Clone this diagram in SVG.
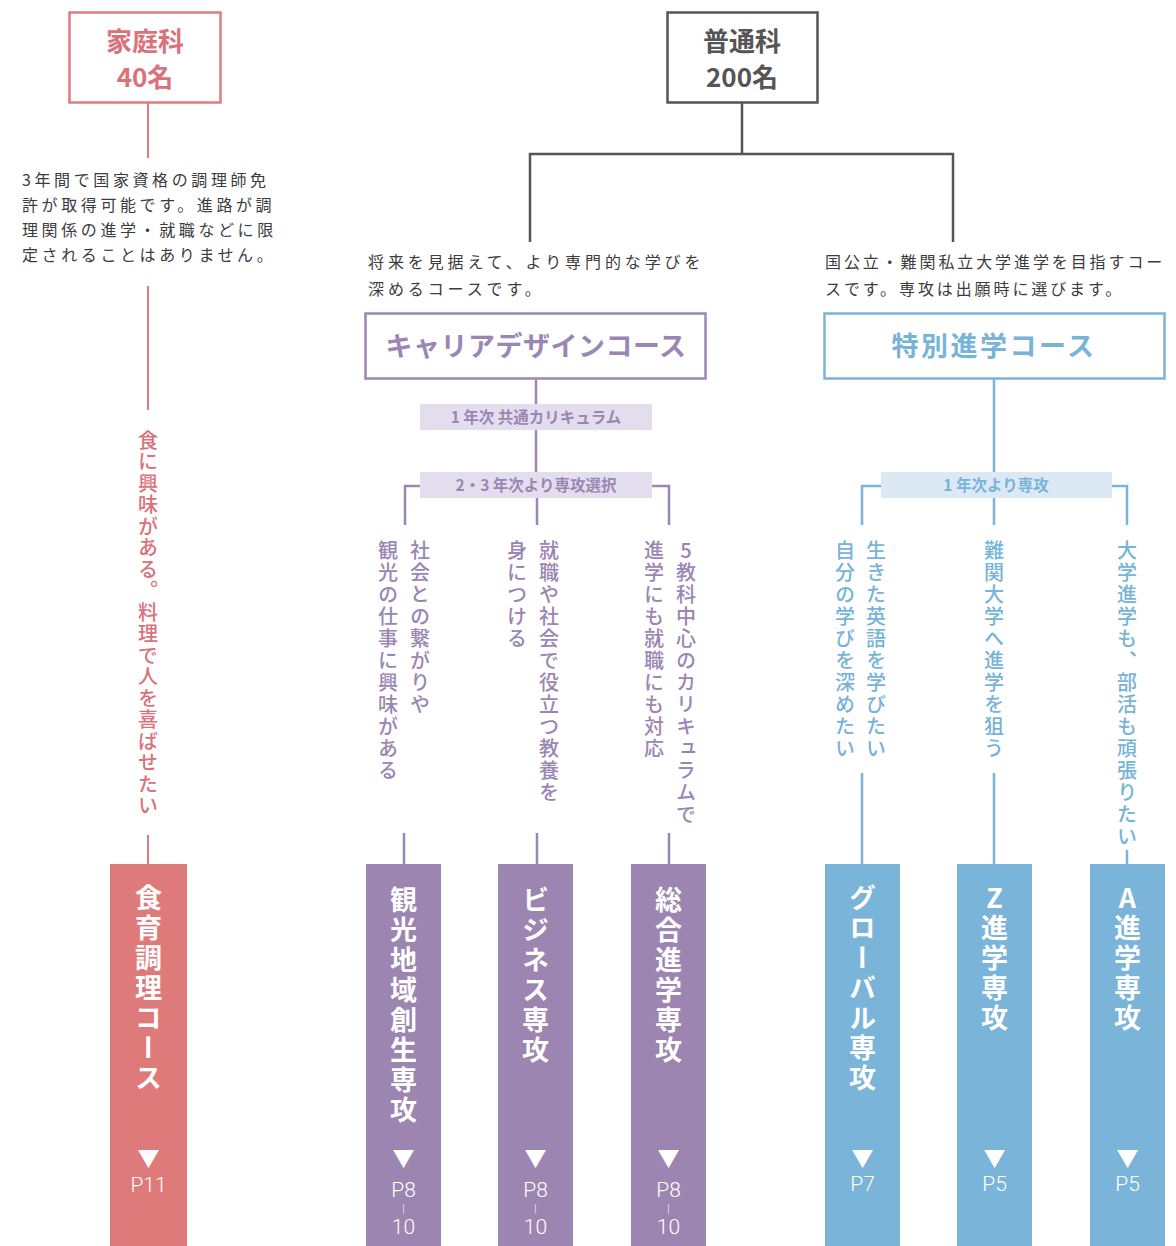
<svg xmlns="http://www.w3.org/2000/svg" width="1176" height="1246" viewBox="0 0 1176 1246">
<style>
text{font-family:"Noto Sans CJK JP","Noto Sans",sans-serif}
.para{font-size:16px;fill:#3c3c3c;letter-spacing:3.6px}
.vt{writing-mode:vertical-rl;text-orientation:upright;font-size:20px;letter-spacing:2px;font-weight:500}
.pk{fill:#d9727a}.pu{fill:#9a86b4}.bl{fill:#78b3d8}
.ln-pk{stroke:#df7b80;stroke-width:2;fill:none}
.ln-pu{stroke:#9b87b2;stroke-width:2.5;fill:none}
.ln-bl{stroke:#7ab4d8;stroke-width:2.5;fill:none}
.ln-gy{stroke:#555;stroke-width:2.5;fill:none}
.bar-t{writing-mode:vertical-rl;text-orientation:upright;font-size:27px;font-weight:700;fill:#fff;letter-spacing:3px}
.tri{font-size:22px;fill:#fff;text-anchor:middle}
.pg{font-family:Roboto,"Liberation Sans",sans-serif;font-weight:300;font-size:21px;fill:#fff;text-anchor:middle}
.band{font-size:15.5px;font-weight:700;text-anchor:middle}
.ttl{font-size:26px;font-weight:600;text-anchor:middle}
</style>

<g id="connectors">
  <line class="ln-pk" x1="148" y1="103" x2="148" y2="158"/>
  <line class="ln-pk" x1="148" y1="286" x2="148" y2="410"/>
  <line class="ln-pk" x1="148" y1="835" x2="148" y2="864"/>
  <polyline class="ln-gy" points="742,103 742,154"/>
  <polyline class="ln-gy" points="530,242 530,154 953,154 953,242"/>
  <line class="ln-pu" x1="536" y1="379" x2="536" y2="472"/>
  <polyline class="ln-pu" points="420,486 405,486 405,525"/>
  <polyline class="ln-pu" points="652,486 669,486 669,525"/>
  <line class="ln-pu" x1="537" y1="498" x2="537" y2="525"/>
  <line class="ln-pu" x1="404" y1="833" x2="404" y2="864"/>
  <line class="ln-pu" x1="537" y1="833" x2="537" y2="864"/>
  <line class="ln-pu" x1="669" y1="833" x2="669" y2="864"/>
  <line class="ln-bl" x1="994" y1="379" x2="994" y2="472"/>
  <polyline class="ln-bl" points="881,486 862,486 862,525"/>
  <polyline class="ln-bl" points="1112,486 1127,486 1127,525"/>
  <line class="ln-bl" x1="994" y1="498" x2="994" y2="525"/>
  <line class="ln-bl" x1="862" y1="773" x2="862" y2="864"/>
  <line class="ln-bl" x1="994" y1="773" x2="994" y2="864"/>
  <line class="ln-bl" x1="1127" y1="850" x2="1127" y2="864"/>
</g>

<g id="kateika">
  <rect x="69.5" y="12.5" width="151" height="90" fill="#fff" stroke="#df7b80" stroke-width="2.5"/>
  <text x="145" y="51" class="ttl pk">家庭科</text>
  <text x="145" y="87" class="ttl pk">40名</text>
</g>
<g id="kateika-desc">
  <text class="para" x="22" y="186">3年間で国家資格の調理師免</text>
  <text class="para" x="22" y="211">許が取得可能です。進路が調</text>
  <text class="para" x="22" y="236">理関係の進学・就職などに限</text>
  <text class="para" x="22" y="261">定されることはありません。</text>
</g>
<g id="kateika-wish">
  <text class="vt pk" x="148" y="430" style="letter-spacing:1.5px">食に興味がある。料理で人を喜ばせたい</text>
</g>
<g id="shokuiku">
  <rect x="110" y="864" width="77" height="382" fill="#df7a7b"/>
  <text class="bar-t" x="148.5" y="884">食育調理コース</text>
  <text class="tri" x="148.5" y="1166">▼</text>
  <text class="pg" x="148.5" y="1192">P11</text>
</g>

<g id="futsuka">
  <rect x="667.5" y="12.5" width="150" height="90" fill="#fff" stroke="#555" stroke-width="2.5"/>
  <text x="742" y="51" fill="#555" class="ttl">普通科</text>
  <text x="742" y="87" fill="#555" class="ttl">200名</text>
</g>

<g id="career-desc">
  <text class="para" x="368" y="268" style="letter-spacing:3.9px">将来を見据えて、より専門的な学びを</text>
  <text class="para" x="368" y="295" style="letter-spacing:3.9px">深めるコースです。</text>
</g>
<g id="career">
  <rect x="365.5" y="313.5" width="340" height="65" fill="#fff" stroke="#9b87b2" stroke-width="2.5"/>
  <text x="536" y="356" class="pu" font-size="27" font-weight="700" text-anchor="middle" letter-spacing="0.5">キャリアデザインコース</text>
</g>
<g id="band-common">
  <rect x="420" y="404" width="232" height="26" fill="#e4dded"/>
  <text class="band pu" x="536" y="422.5">1 年次 共通カリキュラム</text>
</g>
<g id="band-select">
  <rect x="420" y="472" width="232" height="26" fill="#e4dded"/>
  <text class="band pu" x="536" y="490.5">2・3 年次より専攻選択</text>
</g>
<g id="career-wishes">
  <text class="vt pu" x="420" y="540">社会との繋がりや</text>
  <text class="vt pu" x="388" y="540">観光の仕事に興味がある</text>
  <text class="vt pu" x="549" y="540">就職や社会で役立つ教養を</text>
  <text class="vt pu" x="517" y="540">身につける</text>
  <text class="vt pu" x="686" y="540">5教科中心のカリキュラムで</text>
  <text class="vt pu" x="654" y="540">進学にも就職にも対応</text>
</g>
<g id="kanko">
  <rect x="366" y="864" width="75" height="382" fill="#9d85b1"/>
  <text class="bar-t" x="403.5" y="886">観光地域創生専攻</text>
  <text class="tri" x="403.5" y="1166">▼</text>
  <text class="pg" x="403.5" y="1197">P8</text>
  <text class="pg" x="403.5" y="1212" style="font-size:11px">|</text>
  <text class="pg" x="403.5" y="1234">10</text>
</g>
<g id="business">
  <rect x="498" y="864" width="75" height="382" fill="#9d85b1"/>
  <text class="bar-t" x="535.5" y="886">ビジネス専攻</text>
  <text class="tri" x="535.5" y="1166">▼</text>
  <text class="pg" x="535.5" y="1197">P8</text>
  <text class="pg" x="535.5" y="1212" style="font-size:11px">|</text>
  <text class="pg" x="535.5" y="1234">10</text>
</g>
<g id="sogo">
  <rect x="631" y="864" width="75" height="382" fill="#9d85b1"/>
  <text class="bar-t" x="668.5" y="886">総合進学専攻</text>
  <text class="tri" x="668.5" y="1166">▼</text>
  <text class="pg" x="668.5" y="1197">P8</text>
  <text class="pg" x="668.5" y="1212" style="font-size:11px">|</text>
  <text class="pg" x="668.5" y="1234">10</text>
</g>

<g id="tokushin-desc">
  <text class="para" x="825" y="268" style="letter-spacing:2.9px">国公立・難関私立大学進学を目指すコー</text>
  <text class="para" x="825" y="295" style="letter-spacing:2.9px">スです。専攻は出願時に選びます。</text>
</g>
<g id="tokushin">
  <rect x="824.5" y="313.5" width="340" height="65" fill="#fff" stroke="#7ab4d8" stroke-width="2.5"/>
  <text x="994" y="356" class="bl" font-size="27" font-weight="700" text-anchor="middle" letter-spacing="2.5">特別進学コース</text>
</g>
<g id="band-major">
  <rect x="881" y="472" width="231" height="26" fill="#dce9f4"/>
  <text class="band bl" x="996" y="490.5">1 年次より専攻</text>
</g>
<g id="tokushin-wishes">
  <text class="vt bl" x="876" y="540">生きた英語を学びたい</text>
  <text class="vt bl" x="845" y="540">自分の学びを深めたい</text>
  <text class="vt bl" x="994" y="540">難関大学へ進学を狙う</text>
  <text class="vt bl" x="1127" y="540">大学進学も、部活も頑張りたい</text>
</g>
<g id="global">
  <rect x="825" y="864" width="75" height="382" fill="#7bb4d9"/>
  <text class="bar-t" x="862.5" y="884">グローバル専攻</text>
  <text class="tri" x="862.5" y="1166">▼</text>
  <text class="pg" x="862.5" y="1191">P7</text>
</g>
<g id="z-shingaku">
  <rect x="957" y="864" width="75" height="382" fill="#7bb4d9"/>
  <text class="bar-t" x="994.5" y="884">Z進学専攻</text>
  <text class="tri" x="994.5" y="1166">▼</text>
  <text class="pg" x="994.5" y="1191">P5</text>
</g>
<g id="a-shingaku">
  <rect x="1090" y="864" width="75" height="382" fill="#7bb4d9"/>
  <text class="bar-t" x="1127.5" y="884">A進学専攻</text>
  <text class="tri" x="1127.5" y="1166">▼</text>
  <text class="pg" x="1127.5" y="1191">P5</text>
</g>
</svg>
